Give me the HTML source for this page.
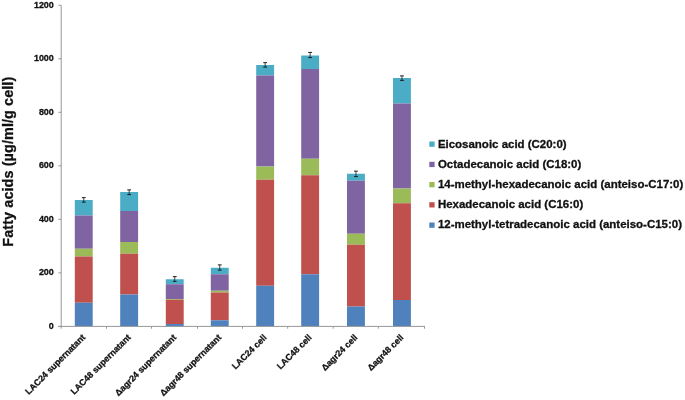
<!DOCTYPE html><html><head><meta charset="utf-8"><title>chart</title><style>html,body{margin:0;padding:0;background:#fff}svg{display:block;filter:blur(0.35px)}text{font-family:"Liberation Sans",sans-serif;font-weight:bold;fill:#111;stroke:#111;stroke-width:0.3px}</style></head><body>
<svg width="685" height="400" viewBox="0 0 685 400">
<rect width="685" height="400" fill="#fff"/>
<rect x="74.80" y="200.00" width="17.9" height="15.50" fill="#4BACC6"/>
<rect x="74.80" y="215.50" width="17.9" height="33.25" fill="#8064A2"/>
<rect x="74.80" y="248.75" width="17.9" height="7.75" fill="#9BBB59"/>
<rect x="74.80" y="256.50" width="17.9" height="46.25" fill="#C0504D"/>
<rect x="74.80" y="302.75" width="17.9" height="23.65" fill="#4F81BD"/>
<rect x="120.20" y="192.00" width="17.9" height="19.00" fill="#4BACC6"/>
<rect x="120.20" y="211.00" width="17.9" height="31.00" fill="#8064A2"/>
<rect x="120.20" y="242.00" width="17.9" height="11.75" fill="#9BBB59"/>
<rect x="120.20" y="253.75" width="17.9" height="40.75" fill="#C0504D"/>
<rect x="120.20" y="294.50" width="17.9" height="31.90" fill="#4F81BD"/>
<rect x="165.80" y="279.25" width="17.9" height="5.00" fill="#4BACC6"/>
<rect x="165.80" y="284.25" width="17.9" height="14.75" fill="#8064A2"/>
<rect x="165.80" y="299.00" width="17.9" height="0.75" fill="#9BBB59"/>
<rect x="165.80" y="299.75" width="17.9" height="24.25" fill="#C0504D"/>
<rect x="165.80" y="324.00" width="17.9" height="2.40" fill="#4F81BD"/>
<rect x="210.80" y="267.75" width="17.9" height="6.50" fill="#4BACC6"/>
<rect x="210.80" y="274.25" width="17.9" height="16.50" fill="#8064A2"/>
<rect x="210.80" y="290.75" width="17.9" height="1.75" fill="#9BBB59"/>
<rect x="210.80" y="292.50" width="17.9" height="27.75" fill="#C0504D"/>
<rect x="210.80" y="320.25" width="17.9" height="6.15" fill="#4F81BD"/>
<rect x="256.20" y="65.00" width="17.9" height="10.50" fill="#4BACC6"/>
<rect x="256.20" y="75.50" width="17.9" height="91.00" fill="#8064A2"/>
<rect x="256.20" y="166.50" width="17.9" height="13.25" fill="#9BBB59"/>
<rect x="256.20" y="179.75" width="17.9" height="106.00" fill="#C0504D"/>
<rect x="256.20" y="285.75" width="17.9" height="40.65" fill="#4F81BD"/>
<rect x="301.20" y="55.50" width="17.9" height="13.50" fill="#4BACC6"/>
<rect x="301.20" y="69.00" width="17.9" height="89.75" fill="#8064A2"/>
<rect x="301.20" y="158.75" width="17.9" height="16.50" fill="#9BBB59"/>
<rect x="301.20" y="175.25" width="17.9" height="99.00" fill="#C0504D"/>
<rect x="301.20" y="274.25" width="17.9" height="52.15" fill="#4F81BD"/>
<rect x="347.00" y="173.75" width="17.9" height="7.00" fill="#4BACC6"/>
<rect x="347.00" y="180.75" width="17.9" height="53.00" fill="#8064A2"/>
<rect x="347.00" y="233.75" width="17.9" height="11.00" fill="#9BBB59"/>
<rect x="347.00" y="244.75" width="17.9" height="61.75" fill="#C0504D"/>
<rect x="347.00" y="306.50" width="17.9" height="19.90" fill="#4F81BD"/>
<rect x="393.00" y="78.00" width="17.9" height="25.50" fill="#4BACC6"/>
<rect x="393.00" y="103.50" width="17.9" height="85.00" fill="#8064A2"/>
<rect x="393.00" y="188.50" width="17.9" height="14.75" fill="#9BBB59"/>
<rect x="393.00" y="203.25" width="17.9" height="96.75" fill="#C0504D"/>
<rect x="393.00" y="300.00" width="17.9" height="26.40" fill="#4F81BD"/>
<g stroke="#979797" stroke-width="1" fill="none">
<line x1="61.2" y1="5.2" x2="61.2" y2="326.9"/>
<line x1="58.2" y1="326.4" x2="425.0" y2="326.4"/>
<line x1="58.400000000000006" y1="326.40" x2="61.2" y2="326.40"/>
<line x1="58.400000000000006" y1="272.88" x2="61.2" y2="272.88"/>
<line x1="58.400000000000006" y1="219.35" x2="61.2" y2="219.35"/>
<line x1="58.400000000000006" y1="165.82" x2="61.2" y2="165.82"/>
<line x1="58.400000000000006" y1="112.30" x2="61.2" y2="112.30"/>
<line x1="58.400000000000006" y1="58.77" x2="61.2" y2="58.77"/>
<line x1="58.400000000000006" y1="5.25" x2="61.2" y2="5.25"/>
<line x1="61.20" y1="326.4" x2="61.20" y2="328.7"/>
<line x1="106.50" y1="326.4" x2="106.50" y2="328.7"/>
<line x1="151.50" y1="326.4" x2="151.50" y2="328.7"/>
<line x1="197.50" y1="326.4" x2="197.50" y2="328.7"/>
<line x1="242.50" y1="326.4" x2="242.50" y2="328.7"/>
<line x1="287.70" y1="326.4" x2="287.70" y2="328.7"/>
<line x1="333.20" y1="326.4" x2="333.20" y2="328.7"/>
<line x1="378.30" y1="326.4" x2="378.30" y2="328.7"/>
<line x1="424.50" y1="326.4" x2="424.50" y2="328.7"/>
</g>
<g stroke="#1a1a1a" stroke-width="1" fill="none">
<path d="M81.85 197.65H85.65M81.85 202.10H85.65"/><path stroke-width="0.8" d="M83.75 197.65V202.10"/>
<path d="M127.25 189.90H131.05M127.25 194.60H131.05"/><path stroke-width="0.8" d="M129.15 189.90V194.60"/>
<path d="M172.85 276.65H176.65M172.85 281.35H176.65"/><path stroke-width="0.8" d="M174.75 276.65V281.35"/>
<path d="M217.85 264.90H221.65M217.85 270.10H221.65"/><path stroke-width="0.8" d="M219.75 264.90V270.10"/>
<path d="M263.25 62.65H267.05M263.25 67.10H267.05"/><path stroke-width="0.8" d="M265.15 62.65V67.10"/>
<path d="M308.25 52.40H312.05M308.25 57.60H312.05"/><path stroke-width="0.8" d="M310.15 52.40V57.60"/>
<path d="M354.05 171.15H357.85M354.05 176.60H357.85"/><path stroke-width="0.8" d="M355.95 171.15V176.60"/>
<path d="M400.05 75.90H403.85M400.05 80.35H403.85"/><path stroke-width="0.8" d="M401.95 75.90V80.35"/>
</g>
<text x="53.8" y="328.80" font-size="8.95" text-anchor="end">0</text>
<text x="53.8" y="275.27" font-size="8.95" text-anchor="end">200</text>
<text x="53.8" y="221.75" font-size="8.95" text-anchor="end">400</text>
<text x="53.8" y="168.22" font-size="8.95" text-anchor="end">600</text>
<text x="53.8" y="114.70" font-size="8.95" text-anchor="end">800</text>
<text x="53.8" y="61.17" font-size="8.95" text-anchor="end">1000</text>
<text x="53.8" y="7.65" font-size="8.95" text-anchor="end">1200</text>
<text transform="translate(12.7 246.7) rotate(-90)" font-size="14.45" letter-spacing="0.08" stroke="none">Fatty acids (µg/ml/g cell)</text>
<text transform="translate(85.90 338) rotate(-45)" font-size="8.8" text-anchor="end">LAC24 supernatant</text>
<text transform="translate(131.30 338) rotate(-45)" font-size="8.8" text-anchor="end">LAC48 supernatant</text>
<text transform="translate(176.90 338) rotate(-45)" font-size="8.8" text-anchor="end">Δagr24 supernatant</text>
<text transform="translate(221.90 338) rotate(-45)" font-size="8.8" text-anchor="end">Δagr48 supernatant</text>
<text transform="translate(267.30 338) rotate(-45)" font-size="8.8" text-anchor="end">LAC24 cell</text>
<text transform="translate(312.30 338) rotate(-45)" font-size="8.8" text-anchor="end">LAC48 cell</text>
<text transform="translate(358.10 338) rotate(-45)" font-size="8.8" text-anchor="end">Δagr24 cell</text>
<text transform="translate(404.10 338) rotate(-45)" font-size="8.8" text-anchor="end">Δagr48 cell</text>
<rect x="429.3" y="141.50" width="5.3" height="5.3" fill="#4BACC6"/>
<text x="437.9" y="147.50" font-size="11.48">Eicosanoic acid (C20:0)</text>
<rect x="429.3" y="161.80" width="5.3" height="5.3" fill="#8064A2"/>
<text x="437.9" y="167.50" font-size="11.48">Octadecanoic acid (C18:0)</text>
<rect x="429.3" y="182.00" width="5.3" height="5.3" fill="#9BBB59"/>
<text x="437.9" y="187.80" font-size="11.48">14-methyl-hexadecanoic acid (anteiso-C17:0)</text>
<rect x="429.3" y="202.20" width="5.3" height="5.3" fill="#C0504D"/>
<text x="437.9" y="208.00" font-size="11.48">Hexadecanoic acid (C16:0)</text>
<rect x="429.3" y="222.50" width="5.3" height="5.3" fill="#4F81BD"/>
<text x="437.9" y="228.00" font-size="11.48">12-methyl-tetradecanoic acid (anteiso-C15:0)</text>
</svg></body></html>
